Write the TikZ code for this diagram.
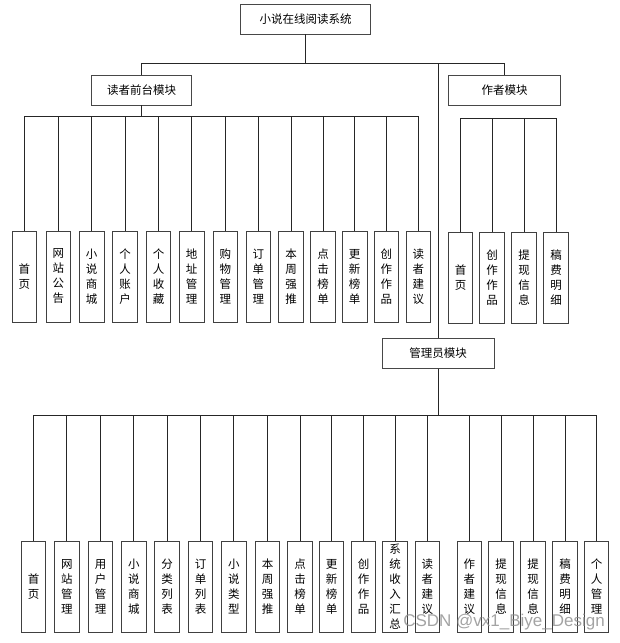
\documentclass[tikz,border=0pt]{standalone}
\usepackage{fontspec}
\setmainfont{Noto Sans CJK SC}
\newfontfamily\wmfont{Liberation Sans}
\begin{document}
\begin{tikzpicture}[x=1pt,y=-1pt,
  every node/.style={font=\fontsize{11.5}{15}\selectfont, inner sep=0pt},
  modbox/.style={draw=black!72, line width=0.9pt, minimum height=30pt, align=center},
  leafbox/.style={draw=black!75, line width=0.9pt, minimum width=24.5pt, minimum height=91pt, align=center},
  conn/.style={draw=black!85, line width=0.8pt}]
\useasboundingbox (0,0) rectangle (619,643);
% top level
\node[modbox, minimum width=130pt] (sys) at (305.5,19) {小说在线阅读系统};
\node[modbox, minimum width=100pt] (reader) at (141.7,90) {读者前台模块};
\node[modbox, minimum width=112pt] (author) at (504.5,90) {作者模块};
\node[modbox, minimum width=112pt] (admin) at (438,353.5) {管理员模块};
\coordinate (tbus) at (0,63);
\draw[conn] (reader.north) |- (sys.south |- tbus) -- (sys.south);
\draw[conn] (sys.south |- tbus) -| (author.north);
\draw[conn] (admin.north) -- (admin.north |- tbus);
% reader leaves
\foreach \i/\x/\t in {1/24.5/首\\页, 2/58.3/网\\站\\公\\告, 3/91.7/小\\说\\商\\城, 4/125/个\\人\\账\\户,
  5/158.5/个\\人\\收\\藏, 6/191.7/地\\址\\管\\理, 7/225.3/购\\物\\管\\理, 8/258.3/订\\单\\管\\理,
  9/291/本\\周\\强\\推, 10/323/点\\击\\榜\\单, 11/354.7/更\\新\\榜\\单, 12/386.3/创\\作\\作\\品, 13/418.3/读\\者\\建\\议}
  {\node[leafbox] (r\i) at (\x,276.5) {\t};}
\coordinate (rbus) at (0,116);
\draw[conn] (reader.south) -- (reader.south |- rbus);
\draw[conn] (r1.north |- rbus) -- (r13.north |- rbus);
\foreach \i in {1,...,13} {\draw[conn] (r\i.north) -- (r\i.north |- rbus);}
% author leaves
\foreach \i/\x/\t in {1/460.5/首\\页, 2/492/创\\作\\作\\品, 3/524/提\\现\\信\\息, 4/556/稿\\费\\明\\细}
  {\node[leafbox] (au\i) at (\x,277.8) {\t};}
\coordinate (aubus) at (0,118.3);
\draw[conn] (au1.north |- aubus) -- (au4.north |- aubus);
\foreach \i in {1,...,4} {\draw[conn] (au\i.north) -- (au\i.north |- aubus);}
% admin leaves
\foreach \i/\x/\t in {1/33.5/首\\页, 2/66.8/网\\站\\管\\理, 3/100.5/用\\户\\管\\理, 4/133.8/小\\说\\商\\城,
  5/167/分\\类\\列\\表, 6/200.5/订\\单\\列\\表, 7/233.8/小\\说\\类\\型, 8/267.5/本\\周\\强\\推,
  9/300/点\\击\\榜\\单, 10/331.5/更\\新\\榜\\单, 11/363.5/创\\作\\作\\品, 12/395/系\\统\\收\\入\\汇\\总,
  13/427.3/读\\者\\建\\议, 14/469.3/作\\者\\建\\议, 15/501/提\\现\\信\\息, 16/533/提\\现\\信\\息,
  17/565/稿\\费\\明\\细, 18/596.5/个\\人\\管\\理}
  {\node[leafbox] (a\i) at (\x,586.5) {\t};}
\coordinate (abus) at (0,415);
\draw[conn] (admin.south) -- (admin.south |- abus);
\draw[conn] (a1.north |- abus) -- (a18.north |- abus);
\foreach \i in {1,...,18} {\draw[conn] (a\i.north) -- (a\i.north |- abus);}
% watermark
\node[anchor=east, text=black!45, font=\wmfont\fontsize{17}{17}\selectfont, opacity=0.8] (wm) at (605,622) {CSDN @vx1\_Biye\_Design};
\end{tikzpicture}
\end{document}
